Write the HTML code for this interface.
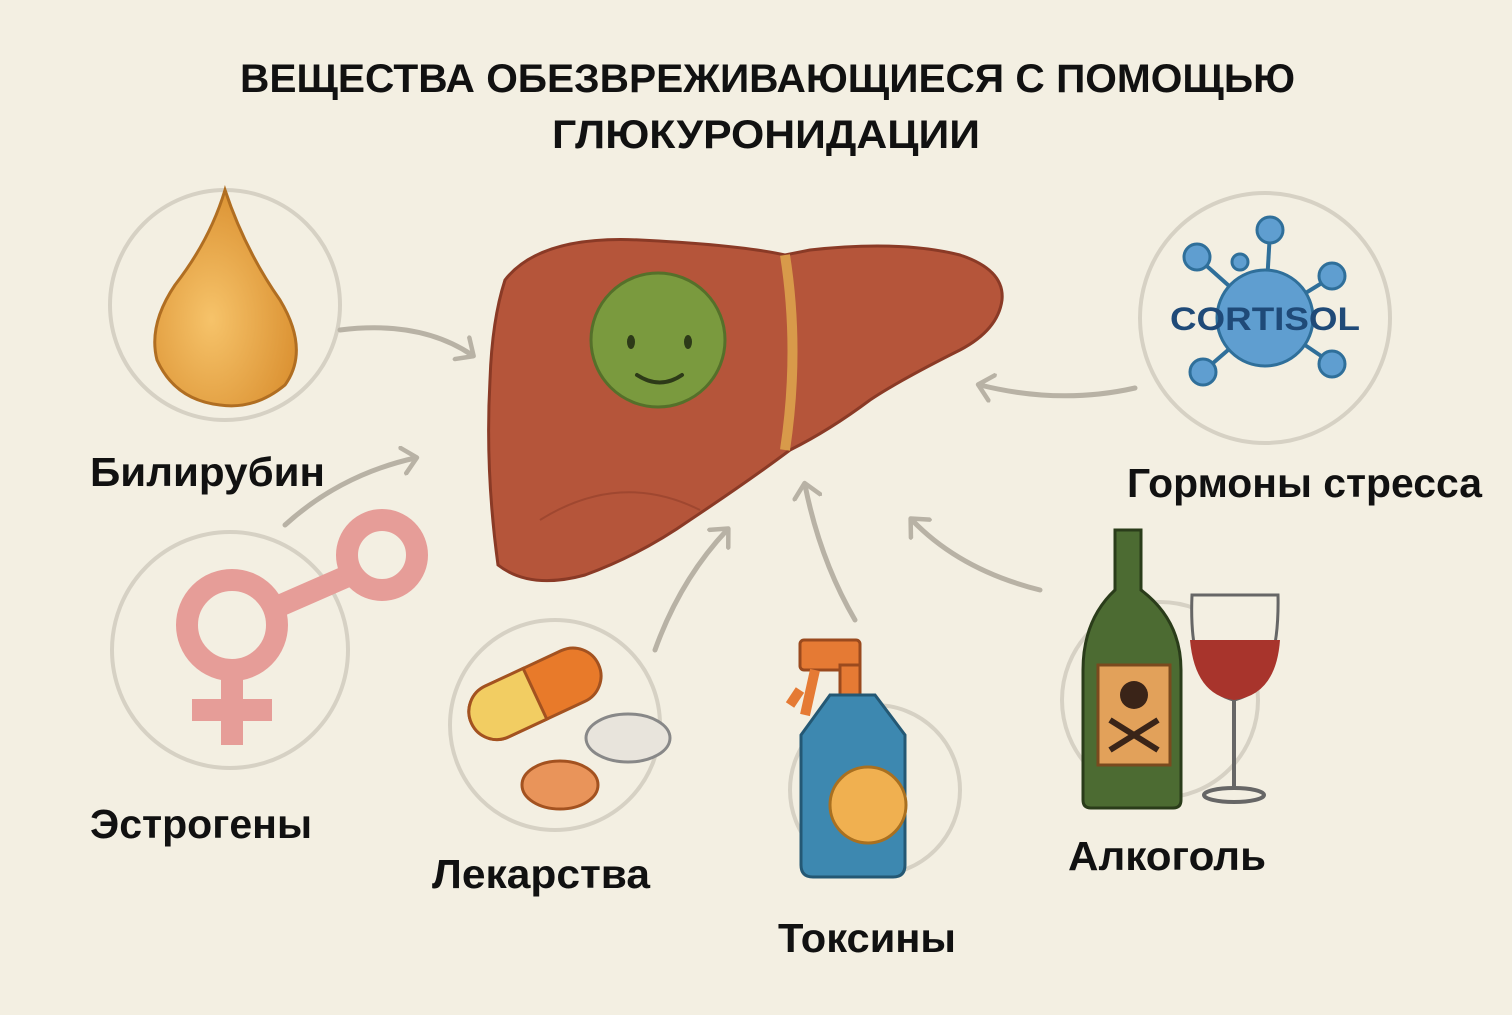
<!DOCTYPE html>
<html><head><meta charset="utf-8"><style>
html,body{margin:0;padding:0;background:#f3efe2;}
svg{display:block}
text{font-family:"Liberation Sans","DejaVu Sans",sans-serif;font-weight:bold;fill:#111;}
</style></head><body>
<svg width="1512" height="1015" viewBox="0 0 1512 1015" xmlns="http://www.w3.org/2000/svg">
<defs>
<marker id="ah" markerWidth="24" markerHeight="30" refX="14" refY="15" orient="auto" markerUnits="userSpaceOnUse" viewBox="0 0 24 30">
<path d="M2,2 L16,15 L2,28" fill="none" stroke="#b8b2a5" stroke-width="4.5" stroke-linecap="round" stroke-linejoin="round"/></marker>
<radialGradient id="drop" cx="0.4" cy="0.6" r="0.7"><stop offset="0" stop-color="#f6c36a"/><stop offset="1" stop-color="#d88c2c"/></radialGradient>
</defs>
<rect width="1512" height="1015" fill="#f3efe2"/>
<text x="240" y="92" font-size="40" textLength="1055" lengthAdjust="spacingAndGlyphs">ВЕЩЕСТВА ОБЕЗВРЕЖИВАЮЩИЕСЯ С ПОМОЩЬЮ</text>
<text x="552" y="148" font-size="40" textLength="428" lengthAdjust="spacingAndGlyphs">ГЛЮКУРОНИДАЦИИ</text>

<g fill="none" stroke="#d6d1c4" stroke-width="4">
<circle cx="225" cy="305" r="115"/>
<circle cx="230" cy="650" r="118"/>
<circle cx="555" cy="725" r="105"/>
<circle cx="875" cy="790" r="85"/>
<circle cx="1160" cy="700" r="98"/>
<circle cx="1265" cy="318" r="125"/>
</g>

<g fill="none" stroke="#b8b2a5" stroke-width="5" stroke-linecap="round" marker-end="url(#ah)">
<path d="M340,330 Q420,320 472,355"/>
<path d="M285,525 Q340,475 415,458"/>
<path d="M655,650 Q680,580 727,530"/>
<path d="M855,620 Q820,560 805,485"/>
<path d="M1040,590 Q960,570 912,520"/>
<path d="M1135,388 Q1060,405 980,385"/>
</g>

<path d="M505,280 Q540,235 640,240 Q740,245 785,255 L810,250 Q900,240 960,255 Q1005,270 1002,300 Q998,330 960,350 Q900,380 870,400 Q830,430 790,450 Q750,480 690,520 Q640,555 585,575 Q530,590 498,565 Q485,470 490,380 Q492,320 505,280 Z" fill="#b5553a" stroke="#8a3a26" stroke-width="3"/>
<path d="M785,255 Q800,350 785,450" fill="none" stroke="#d89a4a" stroke-width="10"/>
<path d="M540,520 Q620,470 700,510" fill="none" stroke="#8a3a26" stroke-width="2" opacity="0.5"/>
<circle cx="658" cy="340" r="67" fill="#7a9a3e" stroke="#55702a" stroke-width="3"/>
<ellipse cx="631" cy="342" rx="4" ry="7" fill="#2d3a18"/>
<ellipse cx="688" cy="342" rx="4" ry="7" fill="#2d3a18"/>
<path d="M637,375 Q660,390 682,375" fill="none" stroke="#2d3a18" stroke-width="4" stroke-linecap="round"/>

<path d="M225,190 Q245,250 280,300 Q310,350 285,385 Q255,410 220,405 Q175,400 157,360 Q148,325 175,285 Q210,240 225,190 Z" fill="url(#drop)" stroke="#b06e22" stroke-width="3"/>

<g fill="none" stroke="#e69d98" stroke-width="22">
<circle cx="232" cy="625" r="45"/>
<line x1="232" y1="670" x2="232" y2="745"/>
<line x1="192" y1="710" x2="272" y2="710"/>
<line x1="270" y1="610" x2="350" y2="575"/>
<circle cx="382" cy="555" r="35"/>
</g>

<g transform="rotate(-25 530 695)">
<rect x="465" y="668" width="140" height="56" rx="28" fill="#e87a2a" stroke="#a35220" stroke-width="3"/>
<path d="M493,668 h42 v56 h-42 a28,28 0 0 1 0,-56 z" fill="#f2cd62" stroke="#a35220" stroke-width="3"/>
</g>
<ellipse cx="628" cy="738" rx="42" ry="24" fill="#e8e4dc" stroke="#888" stroke-width="3"/>
<ellipse cx="560" cy="785" rx="38" ry="24" fill="#e9945a" stroke="#a35220" stroke-width="3"/>

<rect x="800" y="640" width="60" height="30" rx="4" fill="#e57a34" stroke="#9a4a1e" stroke-width="3"/>
<path d="M815,670 L805,715 M800,690 L790,705" stroke="#e57a34" stroke-width="10"/>
<rect x="840" y="665" width="20" height="30" fill="#e57a34" stroke="#9a4a1e" stroke-width="3"/>
<path d="M830,695 h45 l30,40 v130 q0,12 -12,12 h-80 q-12,0 -12,-12 v-130 z" fill="#3d88b0" stroke="#245874" stroke-width="3"/>
<circle cx="868" cy="805" r="38" fill="#f0b050" stroke="#a97020" stroke-width="3"/>

<path d="M1115,530 h26 v60 q40,30 40,80 v130 q0,8 -8,8 h-82 q-8,0 -8,-8 v-130 q0,-50 32,-80 z" fill="#4c6b32" stroke="#2a3c1a" stroke-width="3"/>
<rect x="1098" y="665" width="72" height="100" fill="#e2a15a" stroke="#7a4a1e" stroke-width="3"/>
<circle cx="1134" cy="695" r="14" fill="#3a2418"/>
<path d="M1110,720 L1158,750 M1158,720 L1110,750" stroke="#3a2418" stroke-width="6"/>
<path d="M1192,595 Q1188,690 1234,700 Q1280,690 1278,595 Z" fill="#f3efe2" stroke="#666" stroke-width="3"/>
<path d="M1190,640 Q1195,695 1234,700 Q1276,695 1280,640 Z" fill="#a8342c"/>
<line x1="1234" y1="700" x2="1234" y2="790" stroke="#666" stroke-width="4"/>
<ellipse cx="1234" cy="795" rx="30" ry="7" fill="none" stroke="#666" stroke-width="4"/>

<g stroke="#2f6f9a" stroke-width="4">
<line x1="1265" y1="318" x2="1200" y2="260"/><line x1="1265" y1="318" x2="1270" y2="232"/>
<line x1="1265" y1="318" x2="1330" y2="278"/><line x1="1265" y1="318" x2="1205" y2="370"/>
<line x1="1265" y1="318" x2="1330" y2="362"/>
</g>
<g fill="#5f9ed0" stroke="#2f6f9a" stroke-width="3">
<circle cx="1265" cy="318" r="48"/>
<circle cx="1197" cy="257" r="13"/><circle cx="1270" cy="230" r="13"/><circle cx="1332" cy="276" r="13"/>
<circle cx="1203" cy="372" r="13"/><circle cx="1332" cy="364" r="13"/><circle cx="1240" cy="262" r="8"/>
</g>
<text x="1170" y="330" font-size="32" textLength="190" lengthAdjust="spacingAndGlyphs" style="fill:#1f4a78">CORTISOL</text>

<text x="90" y="486" font-size="41" textLength="235" lengthAdjust="spacingAndGlyphs">Билирубин</text>
<text x="90" y="838" font-size="41" textLength="222" lengthAdjust="spacingAndGlyphs">Эстрогены</text>
<text x="432" y="888" font-size="41" textLength="218" lengthAdjust="spacingAndGlyphs">Лекарства</text>
<text x="778" y="952" font-size="41" textLength="178" lengthAdjust="spacingAndGlyphs">Токсины</text>
<text x="1068" y="870" font-size="41" textLength="198" lengthAdjust="spacingAndGlyphs">Алкоголь</text>
<text x="1127" y="497" font-size="41" textLength="355" lengthAdjust="spacingAndGlyphs">Гормоны стресса</text>
</svg>
</body></html>
